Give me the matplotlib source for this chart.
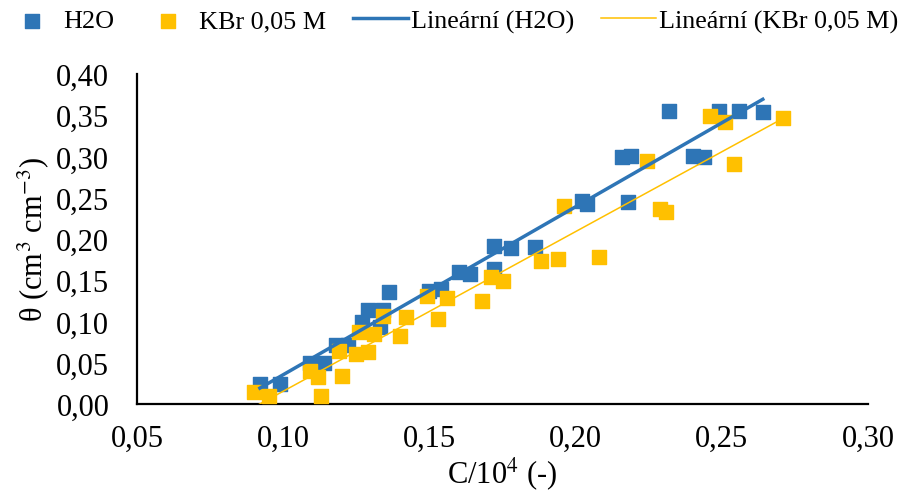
import numpy as np
import matplotlib
matplotlib.use("Agg")
import matplotlib.pyplot as plt

# data
h2o_x = [0.092, 0.099, 0.109, 0.114, 0.118, 0.122, 0.129, 0.134, 0.127, 0.133,
         0.136, 0.150, 0.154, 0.160, 0.164, 0.172, 0.172, 0.178, 0.186, 0.202,
         0.204, 0.216, 0.219, 0.218, 0.240, 0.244, 0.232, 0.249, 0.256, 0.264]
h2o_y = [0.024, 0.024, 0.050, 0.050, 0.072, 0.072, 0.114, 0.114, 0.099, 0.093,
         0.136, 0.137, 0.139, 0.160, 0.158, 0.164, 0.192, 0.189, 0.190, 0.246,
         0.242, 0.299, 0.301, 0.245, 0.301, 0.299, 0.355, 0.355, 0.355, 0.354]

kbr_x = [0.090, 0.095, 0.109, 0.112, 0.113, 0.120, 0.119, 0.125, 0.129, 0.126,
         0.131, 0.134, 0.140, 0.142, 0.149, 0.156, 0.153, 0.168, 0.171, 0.175,
         0.188, 0.194, 0.208, 0.196, 0.2245, 0.229, 0.231, 0.246, 0.251, 0.254,
         0.271]
kbr_y = [0.015, 0.010, 0.040, 0.033, 0.010, 0.034, 0.064, 0.061, 0.063, 0.087,
         0.085, 0.107, 0.083, 0.105, 0.131, 0.128, 0.103, 0.125, 0.154, 0.149,
         0.173, 0.176, 0.178, 0.240, 0.295, 0.236, 0.233, 0.349, 0.342, 0.291,
         0.347]

blue = "#2E75B6"
yellow = "#FFC000"

plt.rcParams["font.family"] = ["Liberation Serif", "DejaVu Serif"]
plt.rcParams["mathtext.fontset"] = "stix"

fig = plt.figure(figsize=(9.08, 5.02), dpi=100)
ax = fig.add_axes([0.151, 0.193, 0.805, 0.658])

ax.scatter(h2o_x, h2o_y, marker="s", s=115, color=blue, label="H2O", zorder=3)
ax.scatter(kbr_x, kbr_y, marker="s", s=115, color=yellow, label="KBr 0,05 M", zorder=3)

# Excel style linear trendlines
k1, q1 = np.polyfit(h2o_x, h2o_y, 1)
xx1 = np.array([min(h2o_x), max(h2o_x)])
ax.plot(xx1, k1 * xx1 + q1, color=blue, lw=2.5, label="Lineární (H2O)", zorder=4)
k2, q2 = np.polyfit(kbr_x, kbr_y, 1)
xx2 = np.array([min(kbr_x), max(kbr_x)])
ax.plot(xx2, k2 * xx2 + q2, color=yellow, lw=1.1, label="Lineární (KBr 0,05 M)", zorder=4)

ax.set_xlim(0.05, 0.30)
ax.set_ylim(0, 0.40)
xt = np.arange(0.05, 0.301, 0.05)
yt = np.arange(0, 0.401, 0.05)
ax.set_xticks(xt)
ax.set_yticks(yt)
ax.set_xticklabels([f"{v:.2f}".replace(".", ",") for v in xt])
ax.set_yticklabels([f"{v:.2f}".replace(".", ",") for v in yt])
ax.tick_params(length=0, labelsize=22)
ax.tick_params(axis="x", pad=14)
ax.tick_params(axis="y", pad=20)

for s in ["top", "right"]:
    ax.spines[s].set_visible(False)
for s in ["left", "bottom"]:
    ax.spines[s].set_linewidth(1.6)

ax.set_xlabel(r"C/10$^{\mathrm{4}}$ (-)", fontsize=22, labelpad=2)
ax.set_ylabel(r"θ (cm$^{\mathrm{3}}$ cm$^{\mathrm{-3}}$)", fontsize=22, labelpad=4)

fig.legend(loc="upper left", bbox_to_anchor=(0.003, 0.985), ncol=4, frameon=False,
           fontsize=18.8, handlelength=2.08, columnspacing=1.05, handletextpad=0.12,
           borderaxespad=0.0, borderpad=0.1, markerscale=0.9)

fig.savefig("out.png", dpi=100)
